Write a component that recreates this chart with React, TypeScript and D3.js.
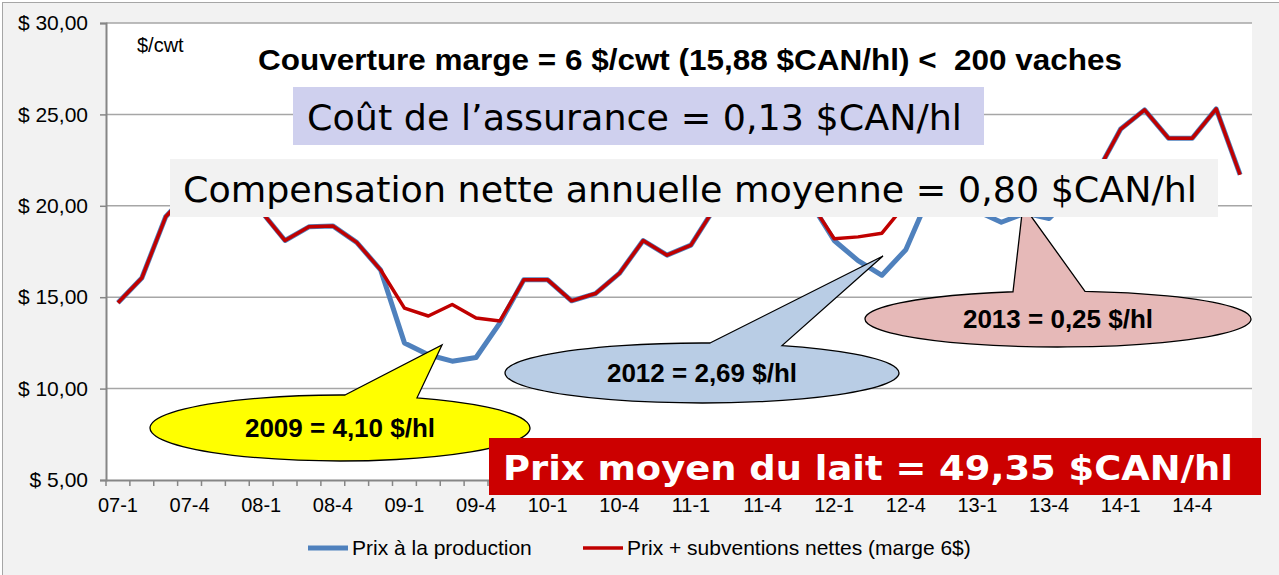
import React, { useEffect, useRef } from 'react';
import * as d3 from 'd3';

const categories = [
    '07-1', '07-2', '07-3', '07-4', '07-5', '07-6',
    '08-1', '08-2', '08-3', '08-4', '08-5', '08-6',
    '09-1', '09-2', '09-3', '09-4', '09-5', '09-6',
    '10-1', '10-2', '10-3', '10-4', '10-5', '10-6',
    '11-1', '11-2', '11-3', '11-4', '11-5', '11-6',
    '12-1', '12-2', '12-3', '12-4', '12-5', '12-6',
    '13-1', '13-2', '13-3', '13-4', '13-5', '13-6',
    '14-1', '14-2', '14-3', '14-4', '14-5', '14-6',
];

const tickLabels = [
    '07-1', '07-4', '08-1', '08-4', '09-1', '09-4', '10-1', '10-4',
    '11-1', '11-4', '12-1', '12-4', '13-1', '13-4', '14-1', '14-4',
];

// Prix à la production ($/cwt)
const prixProduction = [
    14.7, 16.05, 19.4, 20.8, 21.3, 21.0,
    19.7, 18.1, 18.85, 18.9, 18.0, 16.5,
    12.5, 11.85, 11.5, 11.7, 13.6, 15.95,
    15.95, 14.8, 15.2, 16.3, 18.1, 17.3,
    17.85, 19.9, 21.2, 22.0, 21.4, 20.2,
    18.1, 17.0, 16.2, 17.6, 20.6, 21.2,
    19.7, 19.1, 19.6, 19.3, 20.6, 21.8,
    24.2, 25.25, 23.7, 23.7, 25.3, 21.7,
];

// Prix + subventions nettes (marge 6$)
const prixSubventions = [
    14.7, 16.05, 19.4, 20.8, 21.3, 21.0,
    19.7, 18.1, 18.85, 18.9, 18.0, 16.5,
    14.4, 13.97, 14.6, 13.86, 13.7, 15.95,
    15.95, 14.8, 15.2, 16.3, 18.1, 17.3,
    17.85, 19.9, 21.2, 22.0, 21.4, 20.2,
    18.2, 18.3, 18.5, 20.1, 20.8, 21.2,
    19.8, 19.6, 19.8, 19.5, 20.6, 21.8,
    24.2, 25.25, 23.7, 23.7, 25.3, 21.7,
];

const yTicks = [5, 10, 15, 20, 25, 30];

const W = 1279;
const H = 575;

const App: React.FC = () => {
    const svgRef = useRef<SVGSVGElement | null>(null);

    useEffect(() => {
        const svg = d3.select(svgRef.current);
        svg.selectAll('*').remove();
        const margin = { top: 23, right: 27, bottom: 95, left: 106 };
        const font = '"Liberation Sans", Arial, sans-serif';
        const wide = '"DejaVu Sans", Verdana, sans-serif';

        const xScale = d3
            .scaleBand()
            .domain(categories)
            .range([margin.left, W - margin.right])
            .padding(0);
        const yScale = d3
            .scaleLinear()
            .domain([5, 30])
            .range([H - margin.bottom, margin.top]);
        const cx = (i: number) => xScale(categories[i])! + xScale.bandwidth() / 2;

        // frame + plot background
        svg.append('rect')
            .attr('x', 2.5).attr('y', 2.5)
            .attr('width', W).attr('height', H)
            .attr('fill', '#f2f2f2')
            .attr('stroke', '#a6a6a6');
        svg.append('rect')
            .attr('x', margin.left).attr('y', margin.top)
            .attr('width', W - margin.left - margin.right)
            .attr('height', H - margin.top - margin.bottom)
            .attr('fill', '#ffffff');

        // gridlines
        svg.append('g')
            .selectAll('line')
            .data(yTicks.slice(1))
            .join('line')
            .attr('x1', margin.left).attr('x2', W - margin.right)
            .attr('y1', (d) => yScale(d)).attr('y2', (d) => yScale(d))
            .attr('stroke', '#a6a6a6')
            .attr('stroke-width', 1.5);

        // y axis
        const yAxis = svg.append('g')
            .attr('transform', `translate(${margin.left},0)`)
            .call(
                d3.axisLeft(yScale)
                    .tickValues(yTicks)
                    .tickSize(6)
                    .tickPadding(12)
                    .tickFormat((d) => `$ ${d3.format('.2f')(d as number).replace('.', ',')}`)
            );
        yAxis.select('.domain').attr('stroke', '#868686').attr('stroke-width', 2);
        yAxis.selectAll('.tick line').attr('stroke', '#868686').attr('stroke-width', 1.5);
        yAxis.selectAll('text')
            .attr('font-family', font)
            .attr('font-size', 21)
            .attr('fill', '#000');

        // x axis
        const xAxis = svg.append('g')
            .attr('transform', `translate(0,${H - margin.bottom})`)
            .call(
                d3.axisBottom(xScale)
                    .tickValues(tickLabels)
                    .tickSize(0)
                    .tickPadding(18)
            );
        xAxis.select('.domain').attr('stroke', '#868686').attr('stroke-width', 2);
        xAxis.selectAll('text')
            .attr('font-family', font)
            .attr('font-size', 20)
            .attr('fill', '#000');
        xAxis.append('g')
            .selectAll('line')
            .data([...categories.map((c) => xScale(c)!), W - margin.right])
            .join('line')
            .attr('x1', (d) => d).attr('x2', (d) => d)
            .attr('y1', 0).attr('y2', 6)
            .attr('stroke', '#868686')
            .attr('stroke-width', 1.5);

        // series
        const line = d3
            .line<number>()
            .x((_, i) => cx(i))
            .y((d) => yScale(d));

        svg.append('path')
            .datum(prixProduction)
            .attr('d', line)
            .attr('fill', 'none')
            .attr('stroke', '#4f81bd')
            .attr('stroke-width', 5)
            .attr('stroke-linejoin', 'round');
        svg.append('path')
            .datum(prixSubventions)
            .attr('d', line)
            .attr('fill', 'none')
            .attr('stroke', '#c00000')
            .attr('stroke-width', 3.5)
            .attr('stroke-linejoin', 'round');

        // speech bubbles
        const bubble = (
            ex: number, ey: number, rx: number, ry: number,
            bx1: number, bx2: number, tipX: number, tipY: number,
            fill: string, label: string
        ) => {
            const top = (bx: number) => ey - ry * Math.sqrt(1 - ((bx - ex) / rx) ** 2);
            const p = d3.path();
            p.moveTo(bx1, top(bx1));
            p.lineTo(tipX, tipY);
            p.lineTo(bx2, top(bx2));
            const d = `${p.toString()} A ${rx} ${ry} 0 1 1 ${bx1} ${top(bx1)} Z`;
            svg.append('path')
                .attr('d', d)
                .attr('fill', fill)
                .attr('stroke', '#000')
                .attr('stroke-width', 1.3);
            svg.append('text')
                .attr('x', ex)
                .attr('y', ey + 9)
                .attr('text-anchor', 'middle')
                .attr('font-family', font)
                .attr('font-weight', 'bold')
                .attr('font-size', 26)
                .text(label);
        };
        bubble(340, 428, 190, 33, 345, 417, 442, 345, '#ffff00', '2009 = 4,10 $/hl');
        bubble(702, 373, 197, 30, 710, 782, 883, 256, '#b9cde5', '2012 = 2,69 $/hl');
        bubble(1058, 319, 193, 28, 1013, 1085, 1023, 205, '#e6b9b8', '2013 = 0,25 $/hl');

        // unit + title
        svg.append('text')
            .attr('x', 137).attr('y', 52)
            .attr('font-family', font)
            .attr('font-size', 20)
            .text('$/cwt');
        svg.append('text')
            .attr('x', 258).attr('y', 70)
            .attr('font-family', font)
            .attr('font-weight', 'bold')
            .attr('font-size', 30)
            .attr('textLength', 864)
            .attr('lengthAdjust', 'spacingAndGlyphs')
            .text('Couverture marge = 6 $/cwt (15,88 $CAN/hl) <  200 vaches')
            .style('white-space', 'pre');

        // text boxes
        const box = (
            x: number, y: number, w: number, h: number, fill: string,
            tx: number, ty: number, tl: number, size: number,
            label: string, color: string, bold: boolean
        ) => {
            svg.append('rect')
                .attr('x', x).attr('y', y)
                .attr('width', w).attr('height', h)
                .attr('fill', fill);
            svg.append('text')
                .attr('x', tx).attr('y', ty)
                .attr('font-family', wide)
                .attr('font-size', size)
                .attr('font-weight', bold ? 'bold' : 'normal')
                .attr('fill', color)
                .attr('textLength', tl)
                .attr('lengthAdjust', 'spacingAndGlyphs')
                .text(label);
        };
        box(293, 87, 691, 58, '#cfd0ee', 307, 130, 655, 36,
            'Coût de l’assurance = 0,13 $CAN/hl', '#000', false);
        box(170, 159, 1048, 58, '#f2f2f2', 183, 202, 1014, 36,
            'Compensation nette annuelle moyenne = 0,80 $CAN/hl', '#000', false);
        box(489, 438, 772, 57, '#cc0000', 503, 480, 730, 34,
            'Prix moyen du lait = 49,35 $CAN/hl', '#ffffff', true);

        // legend
        const legend = [
            { label: 'Prix à la production', color: '#4f81bd', width: 5, x: 308 },
            { label: 'Prix + subventions nettes (marge 6$)', color: '#c00000', width: 3.5, x: 583 },
        ];
        const lg = svg.append('g');
        legend.forEach((l) => {
            lg.append('line')
                .attr('x1', l.x).attr('x2', l.x + 40)
                .attr('y1', 548).attr('y2', 548)
                .attr('stroke', l.color)
                .attr('stroke-width', l.width);
            lg.append('text')
                .attr('x', l.x + 44).attr('y', 555)
                .attr('font-family', font)
                .attr('font-size', 21)
                .text(l.label);
        });
    }, []);

    return (
        <svg
            ref={svgRef}
            width={W}
            height={H}
            style={{ position: 'absolute', left: 0, top: 0 }}
        ></svg>
    );
};

export default App;
